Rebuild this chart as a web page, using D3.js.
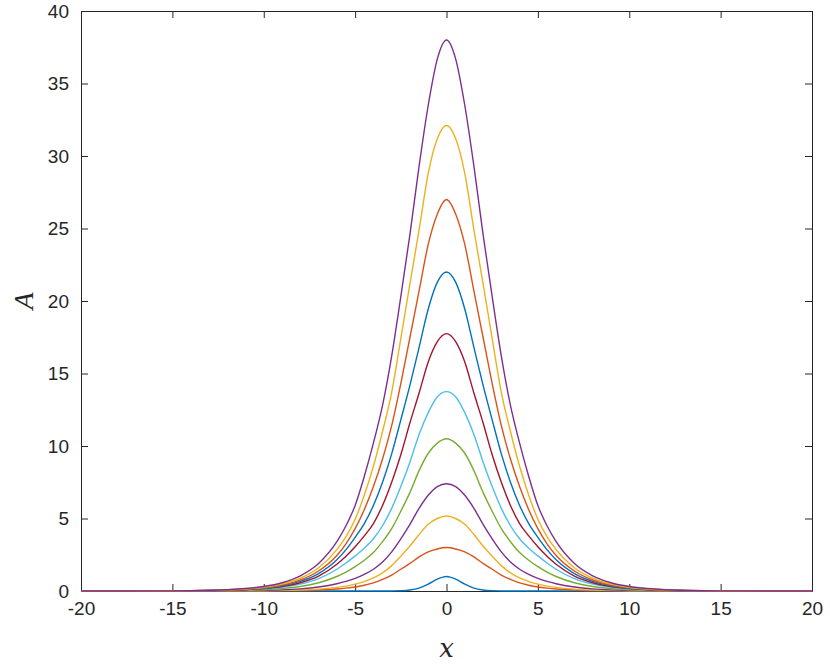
<!DOCTYPE html>
<html>
<head>
<meta charset="utf-8">
<script src="https://cdn.jsdelivr.net/npm/d3@7"></script>
<style>
html,body{margin:0;padding:0;background:#fff;}
svg{display:block;}
</style>
</head>
<body>
<svg id="chart" width="830" height="666"></svg>
<script>
// x positions (shared by all series)
const xValues = [-20,-15,-13,-12,-11,-10,-9,-8,-7,-6,-5.5,-5,-4.5,-4,-3.5,-3,-2.5,-2,-1.5,-1,-0.5,0,0.5,1,1.5,2,2.5,3,3.5,4,4.5,5,5.5,6,7,8,9,10,11,12,13,15,20];

const series1  = [0,0,0,0,0,0,0,0,0,0,0,0,0,0,0,0.005,0.02,0.07,0.20,0.47,0.82, 1.00, 0.82,0.47,0.20,0.07,0.02,0.005,0,0,0,0,0,0,0,0,0,0,0,0,0,0,0];
const series2  = [0,0,0,0,0,0.01,0.02,0.035,0.07,0.14,0.20,0.28,0.40,0.56,0.80,1.10,1.50,1.90,2.35,2.70,2.90, 3.00, 2.90,2.70,2.35,1.90,1.50,1.10,0.80,0.56,0.40,0.28,0.20,0.14,0.07,0.035,0.02,0.01,0,0,0,0,0];
const series3  = [0,0,0,0,0.01,0.02,0.04,0.07,0.13,0.25,0.34,0.47,0.65,0.90,1.25,1.75,2.40,3.10,3.90,4.60,5.00, 5.17, 5.00,4.60,3.90,3.10,2.40,1.75,1.25,0.90,0.65,0.47,0.34,0.25,0.13,0.07,0.04,0.02,0.01,0,0,0,0];
const series4  = [0,0,0.005,0.01,0.025,0.045,0.08,0.15,0.28,0.50,0.66,0.87,1.15,1.50,2.00,2.70,3.60,4.60,5.70,6.60,7.20, 7.40, 7.20,6.60,5.70,4.60,3.60,2.70,2.00,1.50,1.15,0.87,0.66,0.50,0.28,0.15,0.08,0.045,0.025,0.01,0.005,0,0];
const series5  = [0,0,0.015,0.03,0.05,0.09,0.17,0.31,0.57,1.00,1.30,1.68,2.12,2.65,3.40,4.30,5.50,6.80,8.30,9.50,10.20, 10.50, 10.20,9.50,8.30,6.80,5.50,4.30,3.40,2.65,2.12,1.68,1.30,1.00,0.57,0.31,0.17,0.09,0.05,0.03,0.015,0,0];
const series6  = [0,0.005,0.02,0.04,0.075,0.14,0.26,0.47,0.85,1.50,1.93,2.42,2.95,3.60,4.50,5.70,7.20,8.90,10.80,12.30,13.40, 13.75, 13.40,12.30,10.80,8.90,7.20,5.70,4.50,3.60,2.95,2.42,1.93,1.50,0.85,0.47,0.26,0.14,0.075,0.04,0.02,0.005,0];
const series7  = [0,0.005,0.025,0.05,0.09,0.17,0.31,0.57,1.03,1.85,2.40,3.05,3.80,4.65,5.90,7.50,9.40,11.60,13.65,15.80,17.20, 17.75, 17.20,15.80,13.65,11.60,9.40,7.50,5.90,4.65,3.80,3.05,2.40,1.85,1.03,0.57,0.31,0.17,0.09,0.05,0.025,0.005,0];
const series8  = [0,0.005,0.03,0.055,0.10,0.19,0.36,0.66,1.20,2.15,2.85,3.70,4.65,5.90,7.50,9.46,11.80,14.20,16.80,19.45,21.30, 22.00, 21.30,19.45,16.80,14.20,11.80,9.46,7.50,5.90,4.65,3.70,2.85,2.15,1.20,0.66,0.36,0.19,0.10,0.055,0.03,0.005,0];
const series9  = [0,0.01,0.035,0.065,0.12,0.22,0.41,0.76,1.38,2.45,3.25,4.30,5.60,7.20,9.10,11.40,14.30,17.50,20.70,23.90,26.00, 27.00, 26.00,23.90,20.70,17.50,14.30,11.40,9.10,7.20,5.60,4.30,3.25,2.45,1.38,0.76,0.41,0.22,0.12,0.065,0.035,0.01,0];
const series10 = [0,0.01,0.04,0.08,0.14,0.26,0.48,0.88,1.60,2.85,3.75,4.95,6.60,8.60,11.00,13.70,17.40,21.20,24.90,28.80,31.20, 32.10, 31.20,28.80,24.90,21.20,17.40,13.70,11.00,8.60,6.60,4.95,3.75,2.85,1.60,0.88,0.48,0.26,0.14,0.08,0.04,0.01,0];
const series11 = [0,0.01,0.05,0.09,0.17,0.31,0.57,1.05,1.90,3.40,4.50,5.90,7.90,10.20,12.80,16.20,20.30,24.60,29.30,33.50,36.70, 38.00, 36.70,33.50,29.30,24.60,20.30,16.20,12.80,10.20,7.90,5.90,4.50,3.40,1.90,1.05,0.57,0.31,0.17,0.09,0.05,0.01,0];

const allSeries = [series1,series2,series3,series4,series5,series6,series7,series8,series9,series10,series11];
const colors = ["#0072BD","#D95319","#EDB120","#7E2F8E","#77AC30","#4DBEEE","#A2142F"];
const xTicks = [-20,-15,-10,-5,0,5,10,15,20];
const yTicks = [0,5,10,15,20,25,30,35,40];

const svg = d3.select("#chart");
const L = 81, R = 812, T = 11, B = 591;
const x = d3.scaleLinear().domain([-20,20]).range([L,R]);
const y = d3.scaleLinear().domain([0,40]).range([B,T]);
const axisColor = "#262626";
const tickLen = 7;
const fmt = d => String(d);

// axes (drawn below data)
const gx = svg.append("g").attr("transform",`translate(0,${B})`)
  .call(d3.axisBottom(x).tickValues(xTicks).tickSizeInner(-tickLen).tickSizeOuter(0).tickPadding(11).tickFormat(fmt));
const gxt = svg.append("g").attr("transform",`translate(0,${T})`)
  .call(d3.axisTop(x).tickValues(xTicks).tickSizeInner(-tickLen).tickSizeOuter(0).tickFormat(""));
const gy = svg.append("g").attr("transform",`translate(${L},0)`)
  .call(d3.axisLeft(y).tickValues(yTicks).tickSizeInner(-tickLen).tickSizeOuter(0).tickPadding(12).tickFormat(fmt));
const gyr = svg.append("g").attr("transform",`translate(${R},0)`)
  .call(d3.axisRight(y).tickValues(yTicks).tickSizeInner(-tickLen).tickSizeOuter(0).tickFormat(""));

[gx,gxt,gy,gyr].forEach(g=>{
  g.select(".domain").attr("stroke",axisColor).attr("stroke-width",1);
  g.selectAll(".tick line").attr("stroke",axisColor).attr("stroke-width",1);
  g.selectAll(".tick text").attr("fill",axisColor)
    .style("font-family","'Liberation Sans', Arial, sans-serif").style("font-size","19px");
});

// data lines
const line = d3.line()
  .x((d,i)=>x(xValues[i]))
  .y(d=>y(d))
  .curve(d3.curveMonotoneX);

svg.append("g").selectAll("path").data(allSeries).join("path")
  .attr("d", d=>line(d))
  .attr("fill","none")
  .attr("stroke",(d,i)=>colors[i % colors.length])
  .attr("stroke-width",1.4)
  .attr("stroke-linejoin","round");

// axis labels
svg.append("text")
  .attr("x", (L+R)/2).attr("y", 657)
  .attr("text-anchor","middle")
  .style("font-family","'DejaVu Serif', 'Liberation Serif', serif")
  .style("font-style","italic").style("font-size","26px").attr("fill",axisColor)
  .text("x");
svg.append("text")
  .attr("transform", `translate(33,${(T+B)/2}) rotate(-90)`)
  .attr("text-anchor","middle")
  .style("font-family","'Liberation Serif', 'DejaVu Serif', serif")
  .style("font-style","italic").style("font-size","28px").attr("fill",axisColor)
  .text("A");
</script>
</body>
</html>
